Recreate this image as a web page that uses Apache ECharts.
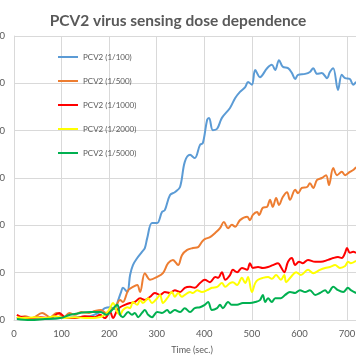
<!DOCTYPE html>
<html>
<head>
<meta charset="utf-8">
<script src="https://cdn.jsdelivr.net/npm/echarts@6/dist/echarts.min.js"></script>
<style>html,body{margin:0;padding:0;background:#fff;}#c{width:356px;height:364px;}</style>
</head>
<body>
<div id="c"></div>
<script>
var seriesNames = ['PCV2 (1/100)', 'PCV2 (1/500)', 'PCV2 (1/1000)', 'PCV2 (1/2000)', 'PCV2 (1/5000)'];
var xTicks = [0, 100, 200, 300, 400, 500, 600, 700, 800];
var yTicks = [0, 100, 200, 300, 400, 500, 600];

var t100 = [6,34,65,97,128,160,181,191,202,212,219,225,229,238,244,250,259,269,275,280,290,301,311,317,328,338,349,359,370,380,391,397,406,410,418,427,437,454,465,475,486,492,500,507,517,532,542,549,557,565,576,584,591,597,612,622,629,637,647,658,664,671,681,689,696,706,713,719];
var v100 = [4,4,2,4,6,8,17,25,27,23,42,59,68,59,95,116,131,144,152,173,205,205,228,232,264,270,281,334,349,342,370,374,423,427,401,404,427,448,469,482,492,503,497,528,513,532,539,528,549,535,532,522,509,518,520,524,532,520,522,511,524,532,486,518,511,509,497,503];

var t500 = [6,23,38,59,76,90,105,116,128,141,158,170,183,193,204,214,223,229,240,250,259,265,275,286,301,313,324,334,345,353,364,376,387,395,401,412,423,433,441,450,458,465,475,490,496,502,511,515,523,532,538,544,551,557,565,574,580,591,597,605,616,622,629,637,647,656,662,671,679,689,696,706,713,719];
var v500 = [4,8,4,15,6,15,6,15,11,17,15,19,21,15,21,30,42,38,63,70,74,59,99,85,91,99,120,127,116,137,148,152,154,165,171,175,184,194,207,194,201,197,211,218,211,222,228,222,237,239,254,239,258,243,260,270,254,275,268,279,281,289,279,296,300,306,285,321,306,313,306,313,317,323];

var t1000 = [6,17,34,55,76,95,107,128,149,170,181,191,202,208,217,223,233,244,254,265,275,286,296,307,317,328,338,349,359,370,380,391,401,412,423,429,437,444,454,460,469,479,490,496,502,513,523,534,544,555,561,568,576,584,591,599,607,618,633,645,660,671,681,689,696,700,706,713,719];
var v1000 = [11,6,4,6,4,15,6,4,8,6,11,4,17,4,21,27,32,36,38,46,42,49,57,53,59,57,63,59,68,70,68,78,85,80,91,89,101,85,95,106,101,110,106,120,110,112,110,112,116,120,112,101,123,131,116,123,120,127,123,123,127,131,133,131,142,152,142,144,142];

var t2000 = [6,23,44,65,86,107,128,149,170,191,202,208,217,223,229,238,244,250,259,265,271,282,290,301,307,313,322,332,338,345,353,359,370,376,385,395,406,416,427,437,444,454,460,469,479,486,492,500,507,513,523,534,542,551,561,568,572,582,593,603,618,629,643,654,664,675,685,696,702,708,719];
var v2000 = [6,4,6,4,8,4,6,4,4,11,25,36,17,11,21,27,25,38,32,42,36,46,36,46,53,36,46,59,49,57,49,53,59,57,63,59,63,68,70,78,70,78,80,74,89,78,91,59,78,85,89,91,87,95,85,95,80,91,101,95,106,99,106,110,112,116,110,114,123,120,125];

var t5000 = [6,34,65,97,118,139,160,181,195,206,217,223,229,240,248,254,261,269,275,282,290,301,311,322,328,338,349,359,370,380,391,401,408,416,427,433,439,450,458,469,481,496,507,517,523,528,534,542,549,561,570,580,591,601,612,622,633,643,654,660,671,681,692,702,708,719];
var v5000 = [2,0,2,4,11,15,17,17,11,21,32,11,6,17,11,15,6,15,21,11,6,17,15,21,15,21,17,25,17,25,27,32,38,21,25,32,25,38,32,32,36,36,38,42,53,38,46,38,46,46,53,59,57,63,59,63,53,57,63,57,70,63,59,68,63,57];

var colors = ['#5B9BD5', '#ED7D31', '#FF0000', '#FFFF00', '#00B050'];
var timeArrays = [t100, t500, t1000, t2000, t5000];
var valueArrays = [v100, v500, v1000, v2000, v5000];

function pairs(t, v) { return t.map(function (x, i) { return [x, v[i]]; }); }

var font = 'Lato, "Open Sans", sans-serif';
var chart = echarts.init(document.getElementById('c'), null, {renderer: 'canvas'});
chart.setOption({
  animation: false,
  backgroundColor: '#ffffff',
  title: {
    text: 'PCV2 virus sensing dose dependence',
    left: 'center',
    top: 8,
    textStyle: {color: '#595959', fontSize: 15.5, fontWeight: 'bold', fontFamily: font}
  },
  legend: {
    orient: 'vertical',
    left: 53,
    top: 48,
    itemWidth: 20,
    itemHeight: 2,
    itemGap: 16,
    icon: 'rect',
    data: seriesNames,
    textStyle: {color: '#595959', fontSize: 8, fontFamily: font}
  },
  grid: {left: 14, top: 36, width: 380.6, height: 284, containLabel: false, outerBoundsMode: 'none'},
  xAxis: {
    type: 'value',
    min: xTicks[0],
    max: xTicks[xTicks.length - 1],
    interval: 100,
    axisLine: {show: true, lineStyle: {color: '#d9d9d9', width: 1}},
    axisTick: {show: false},
    splitLine: {show: true, lineStyle: {color: '#d9d9d9', width: 1}},
    axisLabel: {color: '#595959', fontSize: 9.5, margin: 9, fontFamily: font}
  },
  yAxis: {
    type: 'value',
    min: yTicks[0],
    max: yTicks[yTicks.length - 1],
    interval: 100,
    axisLine: {show: true, lineStyle: {color: '#d9d9d9', width: 1}},
    axisTick: {show: false},
    splitLine: {show: true, lineStyle: {color: '#d9d9d9', width: 1}},
    axisLabel: {color: '#595959', fontSize: 9.5, margin: 9, fontFamily: font}
  },
  graphic: [{
    type: 'text',
    x: 192,
    y: 350,
    style: {text: 'Time (sec.)', fill: '#595959', fontSize: 9, fontFamily: font, textAlign: 'center', textVerticalAlign: 'middle'}
  }],
  series: seriesNames.map(function (name, i) {
    return {
      name: name,
      type: 'line',
      data: pairs(timeArrays[i], valueArrays[i]),
      smooth: 0.35,
      showSymbol: false,
      symbol: 'none',
      itemStyle: {color: colors[i]},
      lineStyle: {color: colors[i], width: 2}
    };
  })
});
</script>
</body>
</html>
